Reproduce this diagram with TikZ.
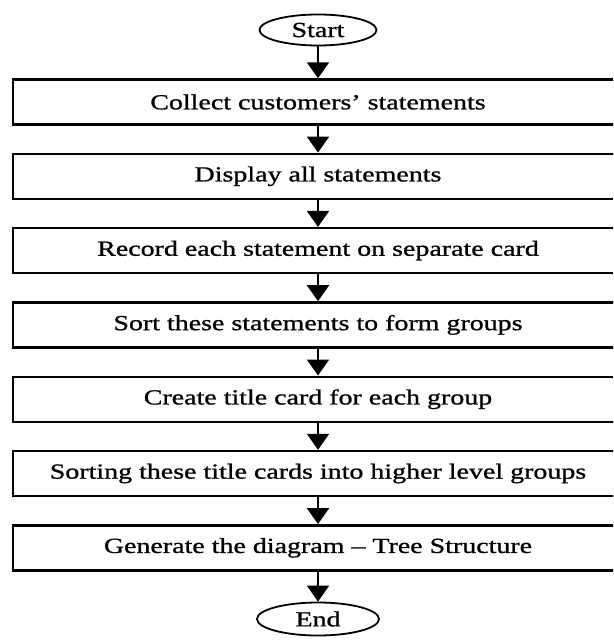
\documentclass[tikz,border=0pt]{standalone}
\usepackage{fontspec}
\setmainfont{Liberation Serif}[FakeStretch=1.3, FakeBold=1]
\usetikzlibrary{arrows.meta, shapes.geometric}

\tikzset{
  stepbox/.style={draw, rectangle, line width=2.4pt, minimum width=610pt, minimum height=45pt, inner sep=0pt},
  term/.style={draw, ellipse, line width=1.8pt, minimum width=117pt, minimum height=31pt, inner sep=0pt},
  flow/.style={line width=2pt, -{Triangle[width=22pt, length=16pt]}}
}

\begin{document}
\begin{tikzpicture}[x=1pt, y=-1pt, font=\fontsize{21.5}{24}\selectfont]
        % The page
        \clip (0,0) rectangle (613,644);

        % The start and end terminals
        \node[term] (start) at (318,30) {Start};
        \node[term, minimum width=122pt, minimum height=33pt] (end) at (318,619) {End};

        % The steps
        \node[stepbox] (collect) at (318,102) {Collect customers' statements};
        \node[stepbox] (display) at (318,176.3) {Display all statements};
        \node[stepbox] (record) at (318,250.6) {Record each statement on separate card};
        \node[stepbox] (sort) at (318,324.9) {Sort these statements to form groups};
        \node[stepbox] (title) at (318,399.2) {Create title card for each group};
        \node[stepbox] (higher) at (318,473.5) {Sorting these title cards into higher level groups};
        \node[stepbox] (tree) at (318,547.8) {Generate the diagram -- Tree Structure};

        % The flow
        \draw[flow] (start) -- (collect);
        \draw[flow] (collect) -- (display);
        \draw[flow] (display) -- (record);
        \draw[flow] (record) -- (sort);
        \draw[flow] (sort) -- (title);
        \draw[flow] (title) -- (higher);
        \draw[flow] (higher) -- (tree);
        \draw[flow] (tree) -- (end);

    \end{tikzpicture}
\end{document}
